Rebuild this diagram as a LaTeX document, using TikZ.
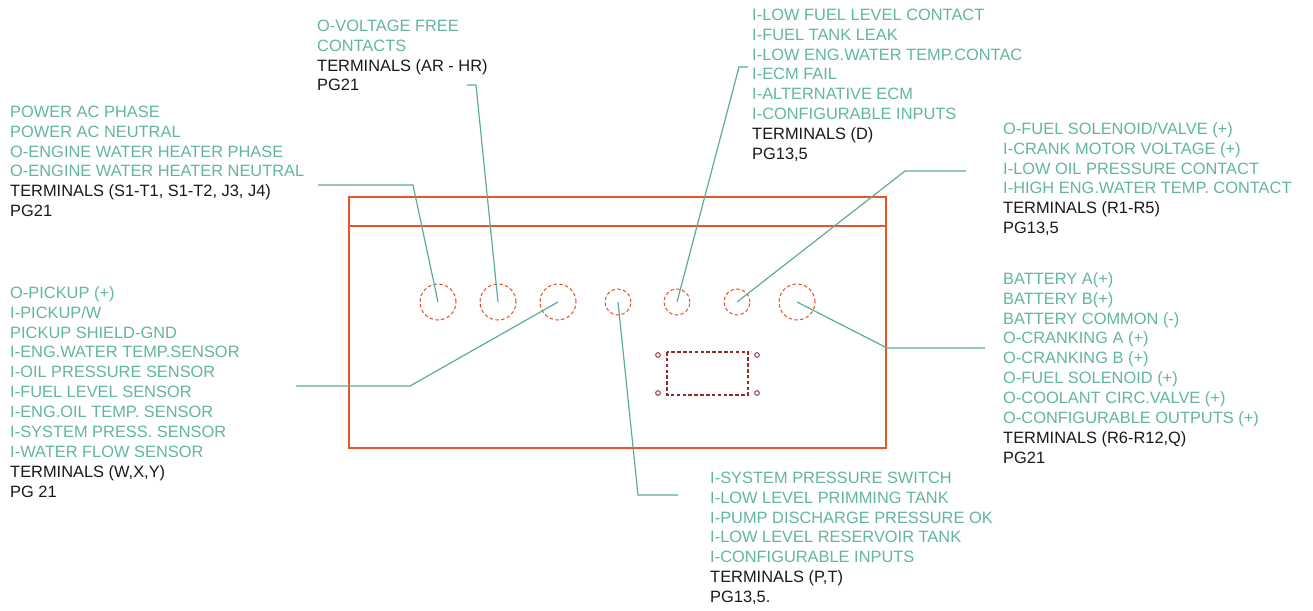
\documentclass[tikz,border=0pt]{standalone}
\usepackage{fontspec}
\setmainfont{Liberation Sans}
\definecolor{panelred}{HTML}{E4572E}
\definecolor{tagteal}{HTML}{62B5A2}
\definecolor{leadteal}{HTML}{5AAA98}
\definecolor{lcdred}{HTML}{8E2B2B}
\newcommand{\tg}[1]{{\color{tagteal}#1}}

\begin{document}
\begin{tikzpicture}[x=0.03cm,y=-0.03cm,
    panel/.style={draw=panelred,line width=1.1pt},
    port/.style={circle,draw=panelred,densely dashed,line width=0.9pt,inner sep=0pt},
    lcd/.style={draw=lcdred,densely dashed,line width=1pt},
    txt/.style={anchor=north west,inner sep=0pt,align=left,text=black!90,
      font=\fontsize{14}{17}\selectfont},
    leader/.style={draw=leadteal,line width=1pt}]
  \useasboundingbox (0,0) rectangle (1313,610);

  % panel
  \draw[panel] (349,197) rectangle (886,448);
  \draw[panel] (349,226) -- (886,226);

  % ports
  \foreach \n/\x/\d in {1/438/1.08cm,2/498/1.08cm,3/558/1.08cm,4/618/0.78cm,
                        5/677/0.78cm,6/737/0.78cm,7/797/1.08cm}
    \node[port,minimum size=\d] (p\n) at (\x,302) {};

  % display
  \draw[lcd] (667,352) rectangle (748,395);
  \foreach \x in {658,757}
    \foreach \y in {355,393}
      \draw[draw=lcdred,line width=0.8pt] (\x,\y) circle[radius=0.07cm];

  % texts
  \node[txt] (power) at (10,103) {\strut\tg{POWER AC PHASE}\\ \tg{POWER AC NEUTRAL}\\
    \tg{O-ENGINE WATER HEATER PHASE}\\ \tg{O-ENGINE WATER HEATER NEUTRAL}\\
    TERMINALS (S1-T1, S1-T2, J3, J4)\\ PG21};
  \node[txt] (relay) at (317,17) {\strut\tg{O-VOLTAGE FREE}\\ \tg{CONTACTS}\\
    TERMINALS (AR - HR)\\ PG21};
  \node[txt] (digin) at (752,6) {\strut\tg{I-LOW FUEL LEVEL CONTACT}\\ \tg{I-FUEL TANK LEAK}\\
    \tg{I-LOW ENG.WATER TEMP.CONTAC}\\ \tg{I-ECM FAIL}\\ \tg{I-ALTERNATIVE ECM}\\
    \tg{I-CONFIGURABLE INPUTS}\\ TERMINALS (D)\\ PG13,5};
  \node[txt] (engine) at (1003,120) {\strut\tg{O-FUEL SOLENOID/VALVE (+)}\\
    \tg{I-CRANK MOTOR VOLTAGE (+)}\\ \tg{I-LOW OIL PRESSURE CONTACT}\\
    \tg{I-HIGH ENG.WATER TEMP. CONTACT}\\ TERMINALS (R1-R5)\\ PG13,5};
  \node[txt] (sensor) at (10,284) {\strut\tg{O-PICKUP (+)}\\ \tg{I-PICKUP/W}\\
    \tg{PICKUP SHIELD-GND}\\ \tg{I-ENG.WATER TEMP.SENSOR}\\ \tg{I-OIL PRESSURE SENSOR}\\
    \tg{I-FUEL LEVEL SENSOR}\\ \tg{I-ENG.OIL TEMP. SENSOR}\\ \tg{I-SYSTEM PRESS. SENSOR}\\
    \tg{I-WATER FLOW SENSOR}\\ TERMINALS (W,X,Y)\\ PG 21};
  \node[txt] (battery) at (1003,270) {\strut\tg{BATTERY A(+)}\\ \tg{BATTERY B(+)}\\
    \tg{BATTERY COMMON (-)}\\ \tg{O-CRANKING A (+)}\\ \tg{O-CRANKING B (+)}\\
    \tg{O-FUEL SOLENOID (+)}\\ \tg{O-COOLANT CIRC.VALVE (+)}\\
    \tg{O-CONFIGURABLE OUTPUTS (+)}\\ TERMINALS (R6-R12,Q)\\ PG21};
  \node[txt] (pump) at (710,469) {\strut\tg{I-SYSTEM PRESSURE SWITCH}\\
    \tg{I-LOW LEVEL PRIMMING TANK}\\ \tg{I-PUMP DISCHARGE PRESSURE OK}\\
    \tg{I-LOW LEVEL RESERVOIR TANK}\\ \tg{I-CONFIGURABLE INPUTS}\\
    TERMINALS (P,T)\\ PG13,5.};

  % leaders
  \coordinate (powerEnd) at (318,185);
  \coordinate (powerBend) at (413,185);
  \draw[leader] (powerEnd) -- (powerBend) -- (p1.center);
  \coordinate (relayEnd) at (467,85);
  \coordinate (relayBend) at (476,85);
  \draw[leader] (relayEnd) -- (relayBend) -- (p2.center);
  \coordinate (sensorEnd) at (296,386);
  \coordinate (sensorBend) at (410,386);
  \draw[leader] (sensorEnd) -- (sensorBend) -- (p3.center);
  \coordinate (pumpEnd) at (678,495);
  \coordinate (pumpBend) at (638,495);
  \draw[leader] (p4.center) -- (pumpBend) -- (pumpEnd);
  \coordinate (diginEnd) at (748,67);
  \coordinate (diginBend) at (739,67);
  \draw[leader] (p5.center) -- (diginBend) -- (diginEnd);
  \coordinate (engineEnd) at (966,171);
  \coordinate (engineBend) at (905,171);
  \draw[leader] (p6.center) -- (engineBend) -- (engineEnd);
  \coordinate (batteryEnd) at (985,348);
  \coordinate (batteryBend) at (887,348);
  \draw[leader] (p7.center) -- (batteryBend) -- (batteryEnd);
\end{tikzpicture}
\end{document}
